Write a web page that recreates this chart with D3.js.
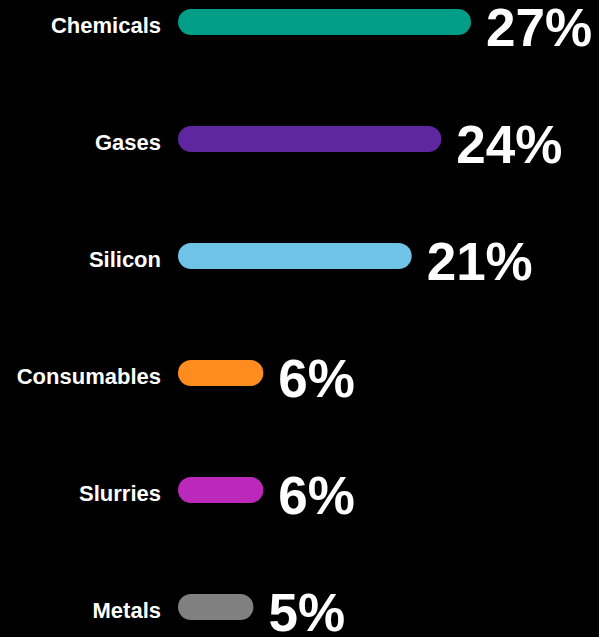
<!DOCTYPE html>
<html>
<head>
<meta charset="utf-8">
<script src="https://cdn.jsdelivr.net/npm/d3@7"></script>
<style>
  html, body { margin: 0; padding: 0; background: #000; }
  svg { display: block; }
  text { font-family: "Liberation Sans", Arial, sans-serif; font-weight: bold; fill: #fff; }
</style>
</head>
<body>
<div id="plot"></div>
<script>
// Chart data
const categories = ["Chemicals", "Gases", "Silicon", "Consumables", "Slurries", "Metals"];
const shares = [27, 24, 21, 6, 6, 5];
const colors = ["#009e87", "#5e27a0", "#6ec3e6", "#ff8c1e", "#bc29ba", "#808080"];

// The SVG dimensions
const width = 599, height = 637;
const barLeft = 178, barH = 26;

const data = categories.map((c, i) => ({name: c, value: shares[i], color: colors[i]}));

// Scales: bar length has a fixed round-cap part plus the value part
const y = d3.scalePoint().domain(categories).range([22, 607]);
const x = d3.scaleLinear().domain([0, 27]).range([26, 293]);

const svg = d3.select("#plot")
  .append("svg")
  .attr("width", width)
  .attr("height", height);

svg.append("rect")
  .attr("width", width)
  .attr("height", height)
  .attr("fill", "#000");

// Bars
svg.selectAll(".bar")
  .data(data)
  .join("rect")
  .attr("class", "bar")
  .attr("x", barLeft)
  .attr("y", d => y(d.name) - barH / 2)
  .attr("width", d => x(d.value))
  .attr("height", barH)
  .attr("rx", barH / 2)
  .attr("fill", d => d.color);

// Category labels
svg.selectAll(".label")
  .data(data)
  .join("text")
  .attr("class", "label")
  .attr("x", barLeft - 17)
  .attr("y", d => y(d.name) + 11)
  .attr("text-anchor", "end")
  .style("font-size", "22px")
  .text(d => d.name);

// Percent values
svg.selectAll(".pct")
  .data(data)
  .join("text")
  .attr("class", "pct")
  .attr("x", d => barLeft + x(d.value) + 15)
  .attr("y", d => y(d.name) + 24)
  .style("font-size", "53px")
  .text(d => d.value + "%");
</script>
</body>
</html>
